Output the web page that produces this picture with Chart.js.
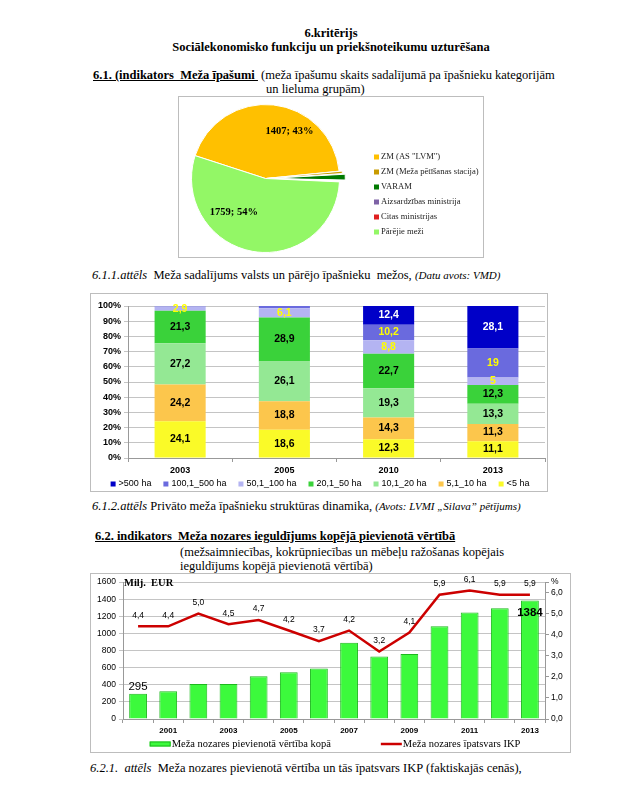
<!DOCTYPE html>
<html>
<head>
<meta charset="utf-8">
<script src="https://cdn.jsdelivr.net/npm/chart.js"></script>
<style>
  body { margin: 0; background: #fff; width: 630px; height: 794px; position: relative; overflow: hidden;
         font-family: "Liberation Serif", "Times New Roman", serif; color: #000; }
  .t { position: absolute; white-space: nowrap; font-size: 12.5px; line-height: 14px; }
  .c { left: 0; width: 662px; text-align: center; }
  .b { font-weight: bold; }
  .u { text-decoration: underline; }
  .i { font-style: italic; }
  .s { font-size: 11px; }
  .box { position: absolute; border: 1px solid #bdbdbd; background: #fff; }
  .box canvas { display: block; }
</style>
</head>
<body>
<div class="t c b" style="top:26px">6.kritērijs</div>
<div class="t c b" style="top:40px">Sociālekonomisko funkciju un priekšnoteikumu uzturēšana</div>
<div class="t" style="left:93px;top:68px"><span class="b u">6.1. (indikators&nbsp; Meža īpašumi&nbsp;</span>&nbsp;(meža īpašumu skaits sadalījumā pa īpašnieku kategorijām</div>
<div class="t" style="left:266px;top:82px">un lieluma grupām)</div>

<div class="box" style="left:178px;top:96px"><canvas id="pie" width="304" height="160"></canvas></div>
<div class="t" style="left:92px;top:268px"><span class="i">6.1.1.attēls</span>&nbsp; Meža sadalījums valsts un pārējo īpašnieku&nbsp; mežos, <span class="i s">(Datu avots: VMD)</span></div>

<div class="box" style="left:90px;top:293px"><canvas id="struct" width="456" height="197"></canvas></div>
<div class="t" style="left:92px;top:499px"><span class="i">6.1.2.attēls</span> Privāto meža īpašnieku struktūras dinamika, <span class="i s">(Avots: LVMI „Silava” pētījums)</span></div>

<div class="t b u" style="left:95px;top:529px">6.2. indikators&nbsp; Meža nozares ieguldījums kopējā pievienotā vērtībā</div>
<div class="t" style="left:180px;top:545px">(mežsaimniecības, kokrūpniecības un mēbeļu ražošanas kopējais</div>
<div class="t" style="left:180px;top:559px">ieguldījums kopējā pievienotā vērtībā)</div>

<div class="box" style="left:90px;top:573px"><canvas id="value" width="479" height="178"></canvas></div>
<div class="t" style="left:90px;top:761px"><span class="i">6.2.1.&nbsp; attēls</span>&nbsp; Meža nozares pievienotā vērtība un tās īpatsvars IKP (faktiskajās cenās),</div>

<script>
// 6.1.1 - meža īpašumi pa īpašnieku kategorijām
const pieLabels = ['ZM (AS "LVM")', 'ZM (Meža pētīšanas stacija)', 'VARAM', 'Aizsardzības ministrija', 'Citas ministrijas', 'Pārējie meži'];
const pieValues = [1407, 20, 45, 2, 8, 1759];
const pieColors = ['#FFC000', '#C89B00', '#007A00', '#7E62A6', '#E02020', '#93F766'];
const pieOffsets = [0, 6, 12, 8, 20, 0];
const pieLabelShift = [[20, -10], null, null, null, null, [-25, -3]];

// 6.1.2 - privāto īpašnieku struktūra, %
const years2 = ['2003', '2005', '2010', '2013'];
const sizeGroups = ['<5 ha', '5,1_10 ha', '10,1_20 ha', '20,1_50 ha', '50,1_100 ha', '100,1_500 ha', '>500 ha'];
const shareLt5 = [24.1, 18.6, 12.3, 11.1];
const share5to10 = [24.2, 18.8, 14.3, 11.3];
const share10to20 = [27.2, 26.1, 19.3, 13.3];
const share20to50 = [21.3, 28.9, 22.7, 12.3];
const share50to100 = [2.9, 6.1, 8.8, 5];
const share100to500 = [0.3, 1.5, 10.2, 19];
const shareGt500 = [0, 0, 12.4, 28.1];
const groupSeries = [shareLt5, share5to10, share10to20, share20to50, share50to100, share100to500, shareGt500];
const groupColors = ['#FAFA28', '#FCC64C', '#94E894', '#3AD23A', '#B4B4F2', '#6A6ADE', '#0000C8'];
const groupLabelColors = ['#000', '#000', '#000', '#000', '#FFFF00', '#FFFF00', '#FFFFFF'];

// 6.2.1 - pievienotā vērtība (milj. EUR) un īpatsvars IKP (%)
const years3 = ['2000', '2001', '2002', '2003', '2004', '2005', '2006', '2007', '2008', '2009', '2010', '2011', '2012', '2013'];
const addedValue = [295, 325, 410, 410, 500, 545, 590, 890, 730, 760, 1085, 1245, 1295, 1384];
const gdpShare = [4.4, 4.4, 5.0, 4.5, 4.7, 4.2, 3.7, 4.2, 3.2, 4.1, 5.9, 6.1, 5.9, 5.9];
const valueLabel = 'Meža nozares pievienotā vērtība kopā';
const shareLabel = 'Meža nozares īpatsvars IKP';

const SANS = '"Liberation Sans", Arial, sans-serif';
const SERIF = '"Liberation Serif", "Times New Roman", serif';
Chart.defaults.font.family = SANS;
Chart.defaults.color = '#000';

const comma = v => String(v).replace('.', ',');

// simple legend drawn on the canvas (row or column)
function legendPlugin(cfg) {
  return {
    id: 'legend_' + cfg.id,
    afterDraw(chart) {
      const ctx = chart.ctx;
      ctx.save();
      ctx.font = cfg.font;
      ctx.textBaseline = 'middle';
      ctx.textAlign = 'left';
      const widths = cfg.items.map(it => cfg.box[0] + cfg.textGap + ctx.measureText(it.text).width);
      let x = cfg.x, y = cfg.y;
      if (cfg.dir === 'row') {
        const total = widths.reduce((a, b) => a + b, 0) + cfg.gap * (widths.length - 1);
        x = cfg.cx - total / 2;
      }
      cfg.items.forEach((it, i) => {
        if (it.line) {
          ctx.strokeStyle = it.color;
          ctx.lineWidth = 2.5;
          ctx.beginPath();
          ctx.moveTo(x, y);
          ctx.lineTo(x + cfg.box[0], y);
          ctx.stroke();
        } else {
          ctx.fillStyle = it.color;
          ctx.fillRect(x, y - cfg.box[1] / 2, cfg.box[0], cfg.box[1]);
          if (it.border) {
            ctx.strokeStyle = it.border;
            ctx.lineWidth = 1;
            ctx.strokeRect(x + 0.5, y - cfg.box[1] / 2 + 0.5, cfg.box[0] - 1, cfg.box[1] - 1);
          }
        }
        ctx.fillStyle = cfg.color;
        ctx.fillText(it.text, x + cfg.box[0] + cfg.textGap, y);
        if (cfg.dir === 'row') x += widths[i] + cfg.gap;
        else y += cfg.step;
      });
      ctx.restore();
    }
  };
}

// ---- pie
const pieTotal = pieValues.reduce((a, b) => a + b, 0);
new Chart(document.getElementById('pie'), {
  type: 'pie',
  data: {
    labels: pieLabels,
    datasets: [{
      data: pieValues,
      backgroundColor: pieColors,
      borderColor: '#fff',
      borderWidth: 1,
      offset: pieOffsets
    }]
  },
  options: {
    responsive: false,
    animation: false,
    rotation: -72,
    radius: 74,
    layout: { padding: { left: 0, right: 131, top: 3, bottom: 0 } },
    plugins: { legend: { display: false }, tooltip: { enabled: false } }
  },
  plugins: [
    {
      id: 'pieLabels',
      afterDatasetsDraw(chart) {
        const ctx = chart.ctx;
        ctx.save();
        ctx.font = 'bold 10.5px ' + SERIF;
        ctx.textAlign = 'center';
        ctx.textBaseline = 'middle';
        ctx.fillStyle = '#000';
        chart.getDatasetMeta(0).data.forEach((arc, i) => {
          const shift = pieLabelShift[i];
          if (!shift) return;
          const p = arc.tooltipPosition();
          const pct = Math.round(pieValues[i] / pieTotal * 100);
          ctx.fillText(pieValues[i] + '; ' + pct + '%', p.x + shift[0], p.y + shift[1]);
        });
        ctx.restore();
      }
    },
    legendPlugin({
      id: 'pie', dir: 'col', x: 195, y: 60, step: 15, box: [5, 5], textGap: 2,
      font: '8.6px ' + SERIF, color: '#222',
      items: pieLabels.map((l, i) => ({ text: l, color: pieColors[i] }))
    })
  ]
});

// ---- stacked structure
new Chart(document.getElementById('struct'), {
  type: 'bar',
  data: {
    labels: years2,
    datasets: sizeGroups.map((g, i) => ({
      label: g,
      data: groupSeries[i],
      backgroundColor: groupColors[i],
      borderWidth: 0,
      barPercentage: 0.49,
      categoryPercentage: 1
    }))
  },
  options: {
    responsive: false,
    animation: false,
    layout: { padding: { left: 0, right: 2, top: 12, bottom: 14 } },
    scales: {
      x: {
        stacked: true,
        grid: { offset: true, drawOnChartArea: false, tickLength: 4, color: '#999' },
        border: { color: '#999' },
        ticks: { font: { weight: 'bold', size: 9 }, padding: 3 },
        afterFit: s => { s.height = 19; }
      },
      y: {
        stacked: true,
        min: 0,
        max: 100,
        ticks: { stepSize: 10, callback: v => v + '%', font: { weight: 'bold', size: 9 }, padding: 3 },
        grid: { color: '#C4C4C4', tickLength: 4 },
        border: { color: '#999' },
        afterFit: s => { s.width = 37; }
      }
    },
    plugins: { legend: { display: false }, tooltip: { enabled: false } }
  },
  plugins: [
    {
      id: 'stackLabels',
      afterDatasetsDraw(chart) {
        const ctx = chart.ctx;
        ctx.save();
        ctx.font = 'bold 10.5px ' + SANS;
        ctx.textAlign = 'center';
        ctx.textBaseline = 'middle';
        chart.data.datasets.forEach((ds, i) => {
          chart.getDatasetMeta(i).data.forEach((bar, j) => {
            const v = ds.data[j];
            if (v < 2) return;
            ctx.fillStyle = groupLabelColors[i];
            ctx.fillText(comma(v), bar.x, (bar.y + bar.base) / 2);
          });
        });
        ctx.restore();
      }
    },
    legendPlugin({
      id: 'struct', dir: 'row', cx: 229, y: 190, gap: 12, box: [5, 5], textGap: 3,
      font: '9px ' + SANS, color: '#000',
      items: sizeGroups.map((g, i) => ({ text: g, color: groupColors[i] })).reverse()
    })
  ]
});

// ---- value added + share of GDP
new Chart(document.getElementById('value'), {
  type: 'bar',
  data: {
    labels: years3,
    datasets: [
      {
        label: valueLabel,
        data: addedValue,
        backgroundColor: '#3CFA3C',
        borderColor: '#1DB81D',
        borderWidth: 1,
        barPercentage: 0.59,
        categoryPercentage: 1,
        yAxisID: 'y',
        order: 1
      },
      {
        type: 'line',
        label: shareLabel,
        data: gdpShare,
        borderColor: '#CC0000',
        borderWidth: 2.5,
        pointRadius: 0,
        tension: 0,
        yAxisID: 'y1',
        order: 0
      }
    ]
  },
  options: {
    responsive: false,
    animation: false,
    layout: { padding: { left: 0, right: 0, top: 7, bottom: 14 } },
    scales: {
      x: {
        grid: { offset: true, drawOnChartArea: false, tickLength: 4, color: '#999' },
        border: { color: '#999' },
        ticks: {
          autoSkip: false, maxRotation: 0, padding: 3,
          font: { weight: 'bold', size: 8 },
          callback: (v, i) => (i % 2 === 1 ? years3[i] : '')
        },
        afterFit: s => { s.height = 19; }
      },
      y: {
        position: 'left',
        min: 0,
        max: 1600,
        ticks: { stepSize: 200, font: { size: 8.5 }, padding: 3, callback: v => String(v) },
        grid: { color: '#C4C4C4', tickLength: 4 },
        border: { color: '#999' },
        afterFit: s => { s.width = 32; }
      },
      y1: {
        position: 'right',
        min: 0,
        max: 6.5,
        ticks: {
          stepSize: 1, autoSkip: false, font: { size: 8.5 }, padding: 2,
          callback: v => (v === 6.5 ? '%' : v.toFixed(1).replace('.', ','))
        },
        grid: { drawOnChartArea: false, tickLength: 4, color: '#999' },
        border: { color: '#999' },
        afterFit: s => { s.width = 25; }
      }
    },
    plugins: { legend: { display: false }, tooltip: { enabled: false } }
  },
  plugins: [
    {
      id: 'valueLabels',
      afterDatasetsDraw(chart) {
        const ctx = chart.ctx;
        const area = chart.chartArea;
        ctx.save();
        ctx.textAlign = 'center';
        ctx.textBaseline = 'middle';
        ctx.fillStyle = '#000';
        // line labels
        ctx.font = '8.5px ' + SANS;
        chart.getDatasetMeta(1).data.forEach((pt, i) => {
          ctx.fillText(gdpShare[i].toFixed(1).replace('.', ','), pt.x, pt.y - 11);
        });
        // first and last bar
        const bars = chart.getDatasetMeta(0).data;
        const last = bars.length - 1;
        ctx.font = '11.5px ' + SANS;
        ctx.fillText(String(addedValue[0]), bars[0].x, bars[0].y - 7);
        ctx.font = 'bold 11.5px ' + SANS;
        ctx.fillText(String(addedValue[last]), bars[last].x, bars[last].y + 12);
        // unit
        ctx.textAlign = 'left';
        ctx.font = 'bold 10.5px ' + SERIF;
        ctx.fillText('Milj.  EUR', area.left + 1, area.top + 1);
        ctx.restore();
      }
    },
    legendPlugin({
      id: 'value', dir: 'row', cx: 244, y: 170, gap: 50, box: [21, 5], textGap: 1,
      font: '10.5px ' + SERIF, color: '#000',
      items: [
        { text: valueLabel, color: '#3CFA3C', border: '#1DB81D' },
        { text: shareLabel, color: '#CC0000', line: true }
      ]
    })
  ]
});
</script>
</body>
</html>
